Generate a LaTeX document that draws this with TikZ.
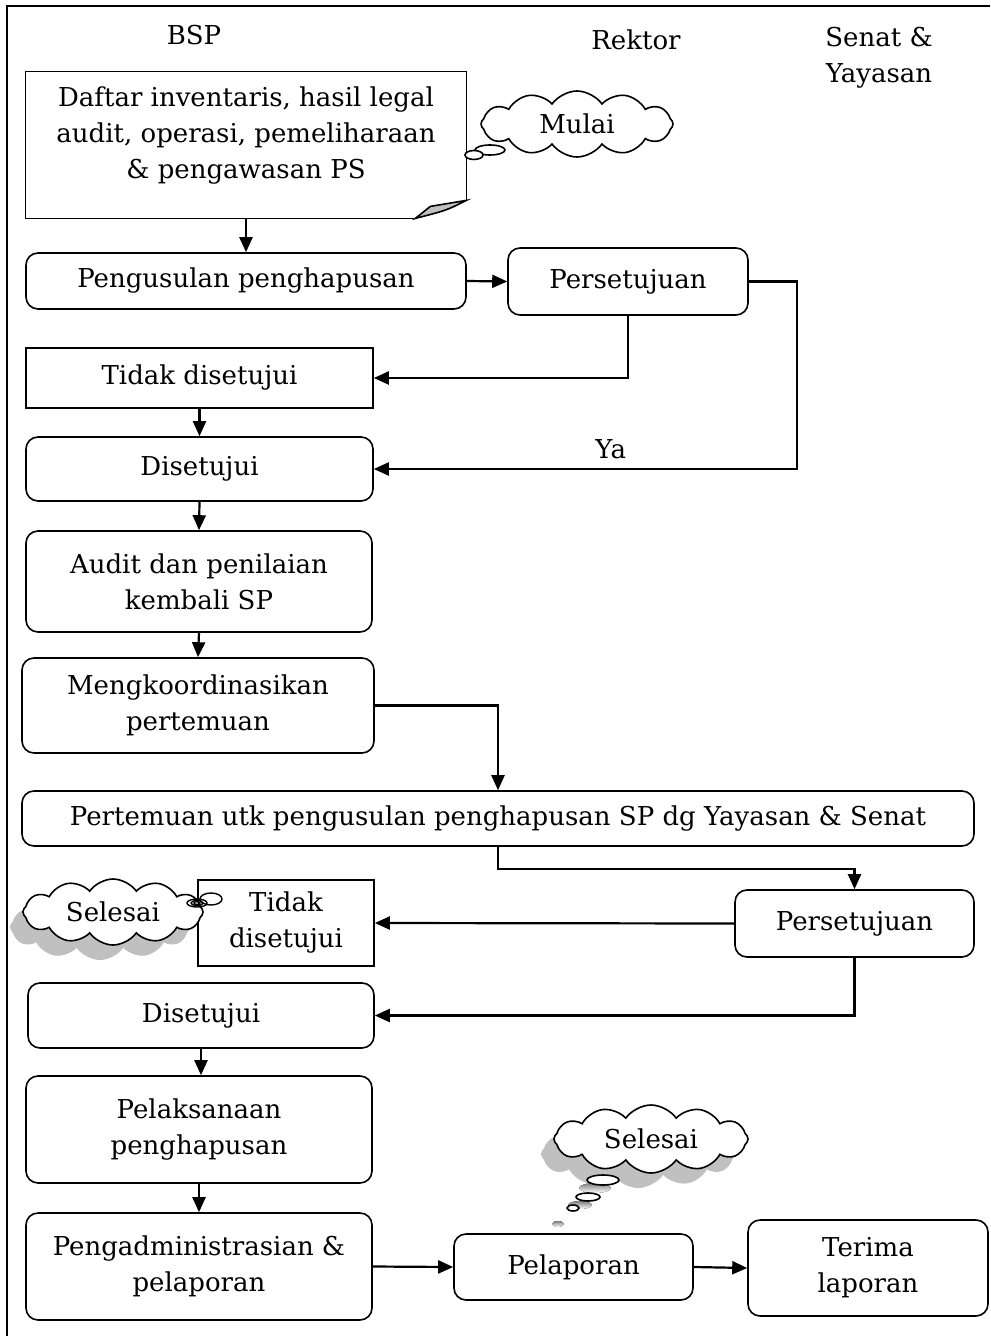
\documentclass[tikz,border=0pt]{standalone}
\usepackage{fontspec}
\setmainfont{DejaVu Serif}
\usetikzlibrary{arrows.meta,positioning,calc,shapes.symbols,shadows}
\definecolor{shade}{HTML}{C0C0C0}

\begin{document}
\begin{tikzpicture}[x=0.5pt,y=-0.5pt,
  font=\fontsize{13}{18}\selectfont,
  rbox/.style={draw,line width=.8pt,rounded corners=6pt,align=center,inner sep=0pt},
  sbox/.style={draw,line width=.8pt,align=center,inner sep=0pt},
  arr/.style={-{Triangle[length=7.5pt,width=6.5pt]},line width=1.1pt},
  puff/.style={cloud,cloud puffs=12,cloud puff arc=110,aspect=3.2,draw,line width=.8pt,fill=white,inner sep=0pt},
  grey shadow/.style={drop shadow={shadow xshift=-6.5pt,shadow yshift=-7.5pt,fill=shade,opacity=1}}]
\useasboundingbox (0,0) rectangle (990,1336);
\draw[line width=1pt] (7,1336) -- (7,6) -- (990,6);
\node (bsp) at (194,35) {BSP};
\node (rektor) at (636,40) {Rektor};
\node[align=center] (senat) at (879,58) {Senat \&\\Yayasan};
\node[minimum width=220pt,minimum height=73pt,inner sep=0pt] (daftar) at (246,145) {};
\draw[line width=.8pt] ($(daftar.south east)+(-51,0)$) -- (daftar.south west) -- (daftar.north west) -- (daftar.north east) -- ($(daftar.south east)+(0,-18)$);
\filldraw[fill=shade,line width=.8pt] ($(daftar.south east)+(0,-18)$) -- ($(daftar.south east)+(-36,-12)$) -- ($(daftar.south east)+(-51,0)$) .. controls ($(daftar.south east)+(-20,-8)$) .. cycle;
\node[align=center] (daftartxt) at (246,136) {Daftar inventaris, hasil legal\\audit, operasi, pemeliharaan\\\& pengawasan PS};
\node[puff,minimum width=96pt,minimum height=33pt] (mulai) at (577,124) {Mulai};
\draw[line width=.8pt,fill=white] (490,150) ellipse (15 and 5);
\draw[line width=.8pt,fill=white] (474,155) ellipse (9 and 4.5);
\node[rbox,minimum width=220pt,minimum height=28pt] (pengusulan) at (246,281) {Pengusulan penghapusan};
\node[rbox,minimum width=120pt,minimum height=33.5pt] (setuju1) at (628,281.5) {Persetujuan};
\node[sbox,minimum width=173.5pt,minimum height=30pt] (tidak1) at (199.5,378) {Tidak disetujui};
\node[rbox,minimum width=173.5pt,minimum height=32pt] (disetujui1) at (199.5,469) {Disetujui};
\node[rbox,minimum width=173pt,minimum height=50.5pt] (audit) at (199,581.5) {Audit dan penilaian\\kembali SP};
\node[rbox,minimum width=176pt,minimum height=47.5pt] (koordinasi) at (198,705.5) {Mengkoordinasikan\\pertemuan};
\node[rbox,minimum width=476pt,minimum height=27.5pt] (pertemuan) at (498,818.5) {Pertemuan utk pengusulan penghapusan SP dg Yayasan \& Senat};
\node[rbox,minimum width=119.5pt,minimum height=33.5pt] (setuju2) at (854.5,923.5) {Persetujuan};
\node[sbox,minimum width=88pt,minimum height=43pt] (tidak2) at (286,923) {Tidak\\disetujui};
\node[puff,grey shadow,minimum width=90pt,minimum height=33pt] (selesai1) at (113,912) {Selesai};
\draw[line width=.7pt] (211,899) ellipse (11 and 6);
\draw[line width=.7pt] (197,903) ellipse (10 and 4);
\draw[line width=.7pt] (197,903) ellipse (6 and 2.5);
\draw[line width=.7pt] (197,903) ellipse (3 and 1.5);
\node[rbox,minimum width=173pt,minimum height=32.5pt] (disetujui2) at (201,1015.5) {Disetujui};
\node[rbox,minimum width=173pt,minimum height=53.5pt] (pelaksanaan) at (199,1129.5) {Pelaksanaan\\penghapusan};
\node[rbox,minimum width=173pt,minimum height=53.5pt] (admin) at (199,1266.5) {Pengadministrasian \&\\pelaporan};
\node[rbox,minimum width=119.5pt,minimum height=33pt] (pelaporan) at (573.5,1267) {Pelaporan};
\node[rbox,minimum width=120pt,minimum height=48pt] (terima) at (868,1268) {Terima\\laporan};
\node[puff,grey shadow,minimum width=97pt,minimum height=34pt] (selesai2) at (651,1139) {Selesai};
\fill[shade] (595,1188) ellipse (16 and 5);
\fill[shade] (580,1205) ellipse (12 and 4);
\fill[shade] (558,1224) ellipse (6 and 3);
\draw[line width=.8pt,fill=white] (603,1180) ellipse (16 and 5);
\draw[line width=.8pt,fill=white] (588,1197) ellipse (12 and 4);
\draw[line width=.8pt,fill=white] (573,1208) ellipse (6 and 3);
\draw[arr] (daftar.south) -- (pengusulan.north);
\draw[arr] (pengusulan.east) -- (setuju1.west);
\draw[arr] (setuju1.south) |- (tidak1.east);
\draw[arr] (setuju1.east) -- ++(48,0) |- node[pos=.72,above=1pt]{Ya} (disetujui1.east);
\draw[arr] (tidak1.south) -- (disetujui1.north);
\draw[arr] (disetujui1.south) -- (audit.north);
\draw[arr] (audit.south) -- (koordinasi.north);
\draw[arr] (koordinasi.east) -| (pertemuan.north);
\draw[arr] (pertemuan.south) -- ++(0,22) -| (setuju2.north);
\draw[arr] (setuju2.west) -- (tidak2.east);
\draw[arr] (setuju2.south) |- (disetujui2.east);
\draw[arr] (disetujui2.south) -- (disetujui2.south |- pelaksanaan.north);
\draw[arr] (pelaksanaan.south) -- (admin.north);
\draw[arr] (admin.east) -- (pelaporan.west);
\draw[arr] (pelaporan.east) -- (terima.west);
\end{tikzpicture}
\end{document}
